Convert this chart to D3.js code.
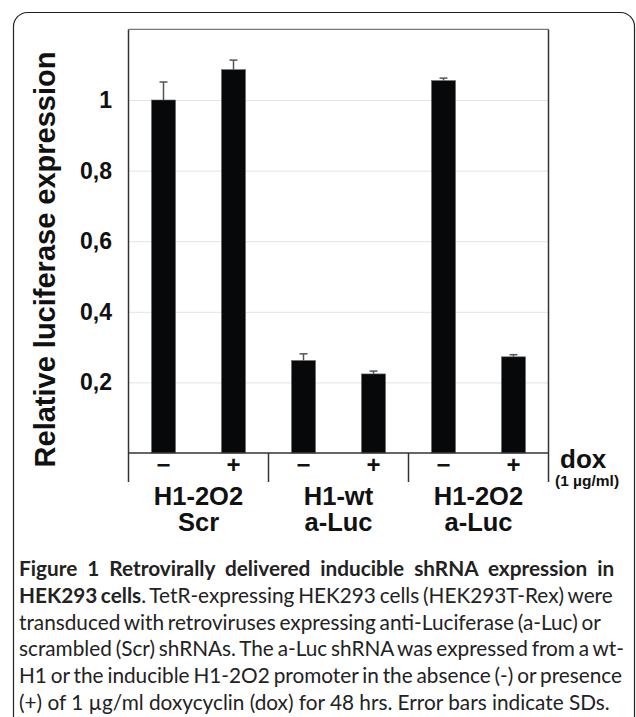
<!DOCTYPE html>
<html><head><meta charset="utf-8">
<script src="https://cdnjs.cloudflare.com/ajax/libs/d3/7.8.5/d3.min.js"></script>
<style>html,body{margin:0;padding:0;background:#fff;}svg{display:block;}</style>
</head><body>
<script>
// ---- data ----
const promoters = ["H1-2O2", "H1-wt", "H1-2O2"];
const shRNAs = ["Scr", "a-Luc", "a-Luc"];
const doxLevels = ["\u2212", "+"];
const valuesMinus = [1.0, 0.262, 1.055];
const valuesPlus = [1.086, 0.224, 0.2725];
const sdMinus = [0.051, 0.019, 0.007];
const sdPlus = [0.027, 0.008, 0.006];
const yTicks = [0.2, 0.4, 0.6, 0.8, 1];
const yTickLabels = ["0,2", "0,4", "0,6", "0,8", "1"];
const yTitle = "Relative luciferase expression";
const captionBold1 = "Figure 1 Retrovirally delivered inducible shRNA expression in";
const captionBold2 = "HEK293 cells";
const captionLines = [
  ". TetR-expressing HEK293 cells (HEK293T-Rex) were",
  "transduced with retroviruses expressing anti-Luciferase (a-Luc) or",
  "scrambled (Scr) shRNAs. The a-Luc shRNA was expressed from a wt-",
  "H1 or the inducible H1-2O2 promoter in the absence (-) or presence",
  "(+) of 1 \u00b5g/ml doxycyclin (dox) for 48 hrs. Error bars indicate SDs."
];

(function () {
const W = 636, H = 717;
const svg = d3.select("body").append("svg").attr("width", W).attr("height", H);

// card border
svg.append("rect").attr("x", 13.5).attr("y", 12.5).attr("width", 621).attr("height", 800)
  .attr("rx", 14).attr("fill", "none").attr("stroke", "#222").attr("stroke-width", 1.2);

const left = 128.5, right = 548.5, base = 453, belowBottom = 482;
const y = d3.scaleLinear().domain([0, 1.2]).range([base, base - 1.2 * 353]);
const groupIdx = d3.range(promoters.length);
const x0 = d3.scaleBand().domain(groupIdx).range([left, right]).padding(0);
const x1 = d3.scaleBand().domain(doxLevels).range([0, x0.bandwidth()])
  .paddingInner(0.657).paddingOuter(0.3285);

const plotTop = y(1.2);
// gridlines
svg.append("g").selectAll("line").data(yTicks).join("line")
  .attr("x1", left).attr("x2", right)
  .attr("y1", d => y(d) + 0.5).attr("y2", d => y(d) + 0.5)
  .attr("stroke", "#e3e3e3").attr("stroke-width", 1);

// y tick labels
svg.append("g").selectAll("text").data(yTicks).join("text")
  .attr("x", 112).attr("y", d => y(d) + 8)
  .attr("text-anchor", "end")
  .attr("font-family", "Liberation Sans, Arial, sans-serif").attr("font-weight", "bold")
  .attr("font-size", 23).attr("fill", "#111")
  .text((d, i) => yTickLabels[i]);

// y title
svg.append("text")
  .attr("transform", `translate(55,${(y(0) + 50) / 2 + 8}) rotate(-90)`)
  .attr("text-anchor", "middle")
  .attr("font-family", "Liberation Sans, Arial, sans-serif").attr("font-weight", "bold")
  .attr("font-size", 29).attr("fill", "#111")
  .text(yTitle);

// bars
const bars = [];
groupIdx.forEach(g => {
  bars.push({g, dox: doxLevels[0], v: valuesMinus[g], sd: sdMinus[g]});
  bars.push({g, dox: doxLevels[1], v: valuesPlus[g], sd: sdPlus[g]});
});
const bx = d => x0(d.g) + x1(d.dox);
svg.append("g").selectAll("rect").data(bars).join("rect")
  .attr("x", bx).attr("width", x1.bandwidth())
  .attr("y", d => y(d.v)).attr("height", d => y(0) - y(d.v))
  .attr("fill", "#06080a").attr("stroke", "#666").attr("stroke-width", 0.6);

// error bars
const eb = svg.append("g").attr("stroke", "#555").attr("stroke-width", 1.5);
eb.selectAll("line.v").data(bars).join("line").attr("class", "v")
  .attr("x1", d => bx(d) + x1.bandwidth() / 2).attr("x2", d => bx(d) + x1.bandwidth() / 2)
  .attr("y1", d => y(d.v)).attr("y2", d => y(d.v + d.sd));
eb.selectAll("line.c").data(bars).join("line").attr("class", "c")
  .attr("x1", d => bx(d) + x1.bandwidth() / 2 - 4).attr("x2", d => bx(d) + x1.bandwidth() / 2 + 4)
  .attr("y1", d => y(d.v + d.sd)).attr("y2", d => y(d.v + d.sd));

// frame
const fr = svg.append("g").attr("fill", "none");
fr.append("line").attr("x1", left).attr("x2", right).attr("y1", plotTop).attr("y2", plotTop)
  .attr("stroke", "#777").attr("stroke-width", 1.2);
fr.append("line").attr("x1", left).attr("x2", left).attr("y1", plotTop).attr("y2", belowBottom)
  .attr("stroke", "#333").attr("stroke-width", 1.5);
fr.append("line").attr("x1", right).attr("x2", right).attr("y1", plotTop).attr("y2", belowBottom)
  .attr("stroke", "#333").attr("stroke-width", 1.5);
fr.append("line").attr("x1", left).attr("x2", right).attr("y1", base).attr("y2", base)
  .attr("stroke", "#333").attr("stroke-width", 1.5);
fr.selectAll("line.sep").data(groupIdx.slice(1)).join("line").attr("class", "sep")
  .attr("x1", d => x0(d)).attr("x2", d => x0(d)).attr("y1", base).attr("y2", belowBottom)
  .attr("stroke", "#333").attr("stroke-width", 1.5);

// dox signs
svg.append("g").selectAll("text").data(bars).join("text")
  .attr("x", d => bx(d) + x1.bandwidth() / 2).attr("y", 473)
  .attr("text-anchor", "middle")
  .attr("font-family", "Liberation Sans, Arial, sans-serif").attr("font-weight", "bold")
  .attr("font-size", 24).attr("fill", "#111")
  .text(d => d.dox);

// group labels
const gl = svg.append("g").attr("font-family", "Liberation Sans, Arial, sans-serif")
  .attr("font-weight", "bold").attr("font-size", 25.5).attr("fill", "#111").attr("text-anchor", "middle");
gl.selectAll("text.p").data(groupIdx).join("text").attr("class", "p")
  .attr("x", d => x0(d) + x0.bandwidth() / 2).attr("y", 505).text(d => promoters[d]);
gl.selectAll("text.s").data(groupIdx).join("text").attr("class", "s")
  .attr("x", d => x0(d) + x0.bandwidth() / 2).attr("y", 531).text(d => shRNAs[d]);

// dox label
svg.append("text").attr("x", 560).attr("y", 468)
  .attr("font-family", "Liberation Sans, Arial, sans-serif").attr("font-weight", "bold")
  .attr("font-size", 26).attr("fill", "#111").text("dox");
svg.append("text").attr("x", 555).attr("y", 486)
  .attr("font-family", "Liberation Sans, Arial, sans-serif").attr("font-weight", "bold")
  .attr("font-size", 15.5).attr("fill", "#111").text("(1 \u00b5g/ml)");

// caption
const capFont = "Lato, 'Open Sans', sans-serif";
const cap = svg.append("g").attr("font-family", capFont).attr("fill", "#222");
const capX = 19;
const lineEnds = [623, 541, 516, 621, 622, 610];
// size the text so the last (unjustified) line has its natural width
const probe = cap.append("text").attr("font-size", 20).text(captionLines[4]);
const fs = 20 * (lineEnds[5] - capX) / probe.node().getComputedTextLength();
probe.remove();
const nodes = [];
nodes.push(cap.append("text").attr("font-weight", "bold").text(captionBold1));
captionLines.forEach((d, i) => {
  const t = cap.append("text");
  if (i === 0) {
    t.append("tspan").attr("font-weight", "bold").text(captionBold2);
    t.append("tspan").text(d);
  } else t.text(d);
  nodes.push(t);
});
nodes.forEach((t, i) => {
  t.attr("x", capX).attr("y", 576 + i * 26.8).attr("font-size", fs);
  const txt = t.text();
  const spaces = (txt.match(/ /g) || []).length;
  const nat = t.node().getComputedTextLength();
  let ws = (lineEnds[i] - capX - nat) / spaces;
  ws = Math.max(-1.5, Math.min(5, ws));
  if (Math.abs(ws) > 0.05) t.attr("word-spacing", ws);
});
})();
</script>
</body></html>
